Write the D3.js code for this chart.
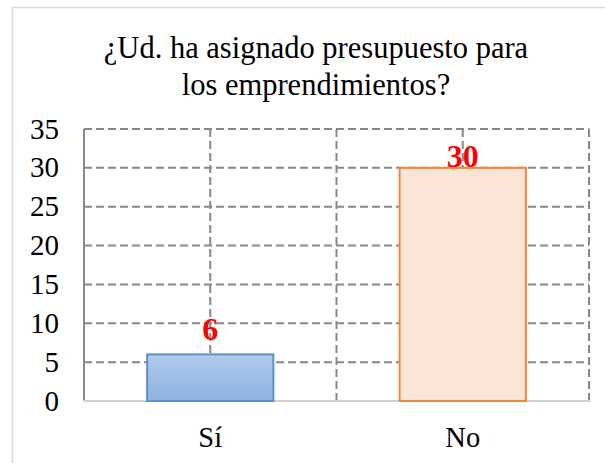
<!DOCTYPE html>
<html>
<head>
<meta charset="utf-8">
<script src="https://cdn.jsdelivr.net/npm/d3@7"></script>
<style>
  body { margin: 0; background: #fff; }
  text { font-family: 'Liberation Serif', 'Times New Roman', Tinos, 'DejaVu Serif', serif; }
</style>
</head>
<body>
<svg id="chart" width="605" height="463"></svg>
<script>
const categories = ['Sí', 'No']
const values = [6, 30]
const yTicks = [0, 5, 10, 15, 20, 25, 30, 35]
const titleLines = ['¿Ud. ha asignado presupuesto para', 'los emprendimientos?']

const svg = d3.select('#chart')
const plot = { left: 84, right: 589, top: 129, bottom: 401 }
const serif = "'Liberation Serif', 'Times New Roman', Tinos, 'DejaVu Serif', serif"

// outer frame
svg.append('rect')
  .attr('x', 12.5).attr('y', 7.5)
  .attr('width', 610).attr('height', 470)
  .style('fill', '#fff')
  .style('stroke', '#d9d9d9')
  .style('stroke-width', 1.5)

const x = d3.scaleBand().domain(categories).range([plot.left, plot.right]).paddingInner(0).paddingOuter(0)
const y = d3.scaleLinear().domain([0, 35]).range([plot.bottom, plot.top])

// title
svg.append('text')
  .attr('x', 316).attr('y', 58)
  .attr('text-anchor', 'middle')
  .attr('font-family', serif)
  .style('font-size', '30.5px')
  .style('fill', '#000')
  .selectAll('tspan')
  .data(titleLines)
  .join('tspan')
  .attr('x', 316)
  .attr('dy', (d, i) => i === 0 ? 0 : 37)
  .text(d => d)

const grid = svg.append('g')
  .style('stroke', '#888')
  .style('stroke-width', 2)
  .style('stroke-dasharray', '8,4')

// horizontal gridlines
grid.selectAll('line.h')
  .data(yTicks.filter(d => d > 0))
  .join('line')
  .attr('class', 'h')
  .attr('x1', plot.left).attr('x2', plot.right)
  .attr('y1', d => y(d)).attr('y2', d => y(d))

// vertical gridlines: band edges and centers
const vx = []
categories.forEach(c => {
  vx.push(x(c) + x.bandwidth() / 2)
  vx.push(x(c) + x.bandwidth())
})
grid.selectAll('line.v')
  .data(vx)
  .join('line')
  .attr('class', 'v')
  .attr('x1', d => d).attr('x2', d => d)
  .attr('y1', plot.top).attr('y2', plot.bottom)

// left axis
svg.append('line')
  .attr('x1', plot.left).attr('x2', plot.left)
  .attr('y1', plot.top).attr('y2', plot.bottom)
  .style('stroke', '#888')
  .style('stroke-width', 2)

// bottom axis
svg.append('line')
  .attr('x1', plot.left - 1).attr('x2', plot.right + 1)
  .attr('y1', plot.bottom).attr('y2', plot.bottom)
  .style('stroke', '#d0d0d0')
  .style('stroke-width', 2)

// y tick labels
svg.append('g')
  .selectAll('text')
  .data(yTicks)
  .join('text')
  .attr('x', 59)
  .attr('y', d => y(d) + 9.5)
  .attr('text-anchor', 'end')
  .attr('font-family', serif)
  .style('font-size', '29px')
  .text(d => d)

// x labels
svg.append('g')
  .selectAll('text')
  .data(categories)
  .join('text')
  .attr('x', d => x(d) + x.bandwidth() / 2)
  .attr('y', 447)
  .attr('text-anchor', 'middle')
  .attr('font-family', serif)
  .style('font-size', '28.5px')
  .text(d => d)

// gradient for first bar
const defs = svg.append('defs')
const grad = defs.append('linearGradient')
  .attr('id', 'blueGrad')
  .attr('x1', 0).attr('y1', 0).attr('x2', 0).attr('y2', 1)
grad.append('stop').attr('offset', '0%').attr('stop-color', '#b0cbea')
grad.append('stop').attr('offset', '100%').attr('stop-color', '#90b3e2')

const fills = ['url(#blueGrad)', '#fae4d6']
const strokes = ['#5a8fd2', '#f0883a']
const barW = x.bandwidth() * 0.5

svg.append('g')
  .selectAll('rect')
  .data(values)
  .join('rect')
  .attr('x', (d, i) => x(categories[i]) + (x.bandwidth() - barW) / 2)
  .attr('y', d => y(d))
  .attr('width', barW)
  .attr('height', d => y(0) - y(d))
  .style('fill', (d, i) => fills[i])
  .style('stroke', (d, i) => strokes[i])
  .style('stroke-width', 2)

// data labels (Excel had them nudged by hand)
const labelLift = [14, 1]
svg.append('g')
  .selectAll('text')
  .data(values)
  .join('text')
  .attr('x', (d, i) => x(categories[i]) + x.bandwidth() / 2)
  .attr('y', (d, i) => y(d) - labelLift[i])
  .attr('text-anchor', 'middle')
  .attr('font-family', serif)
  .style('font-size', '32px')
  .style('font-weight', 'bold')
  .style('fill', '#ff0000')
  .text(d => d)
</script>
</body>
</html>
